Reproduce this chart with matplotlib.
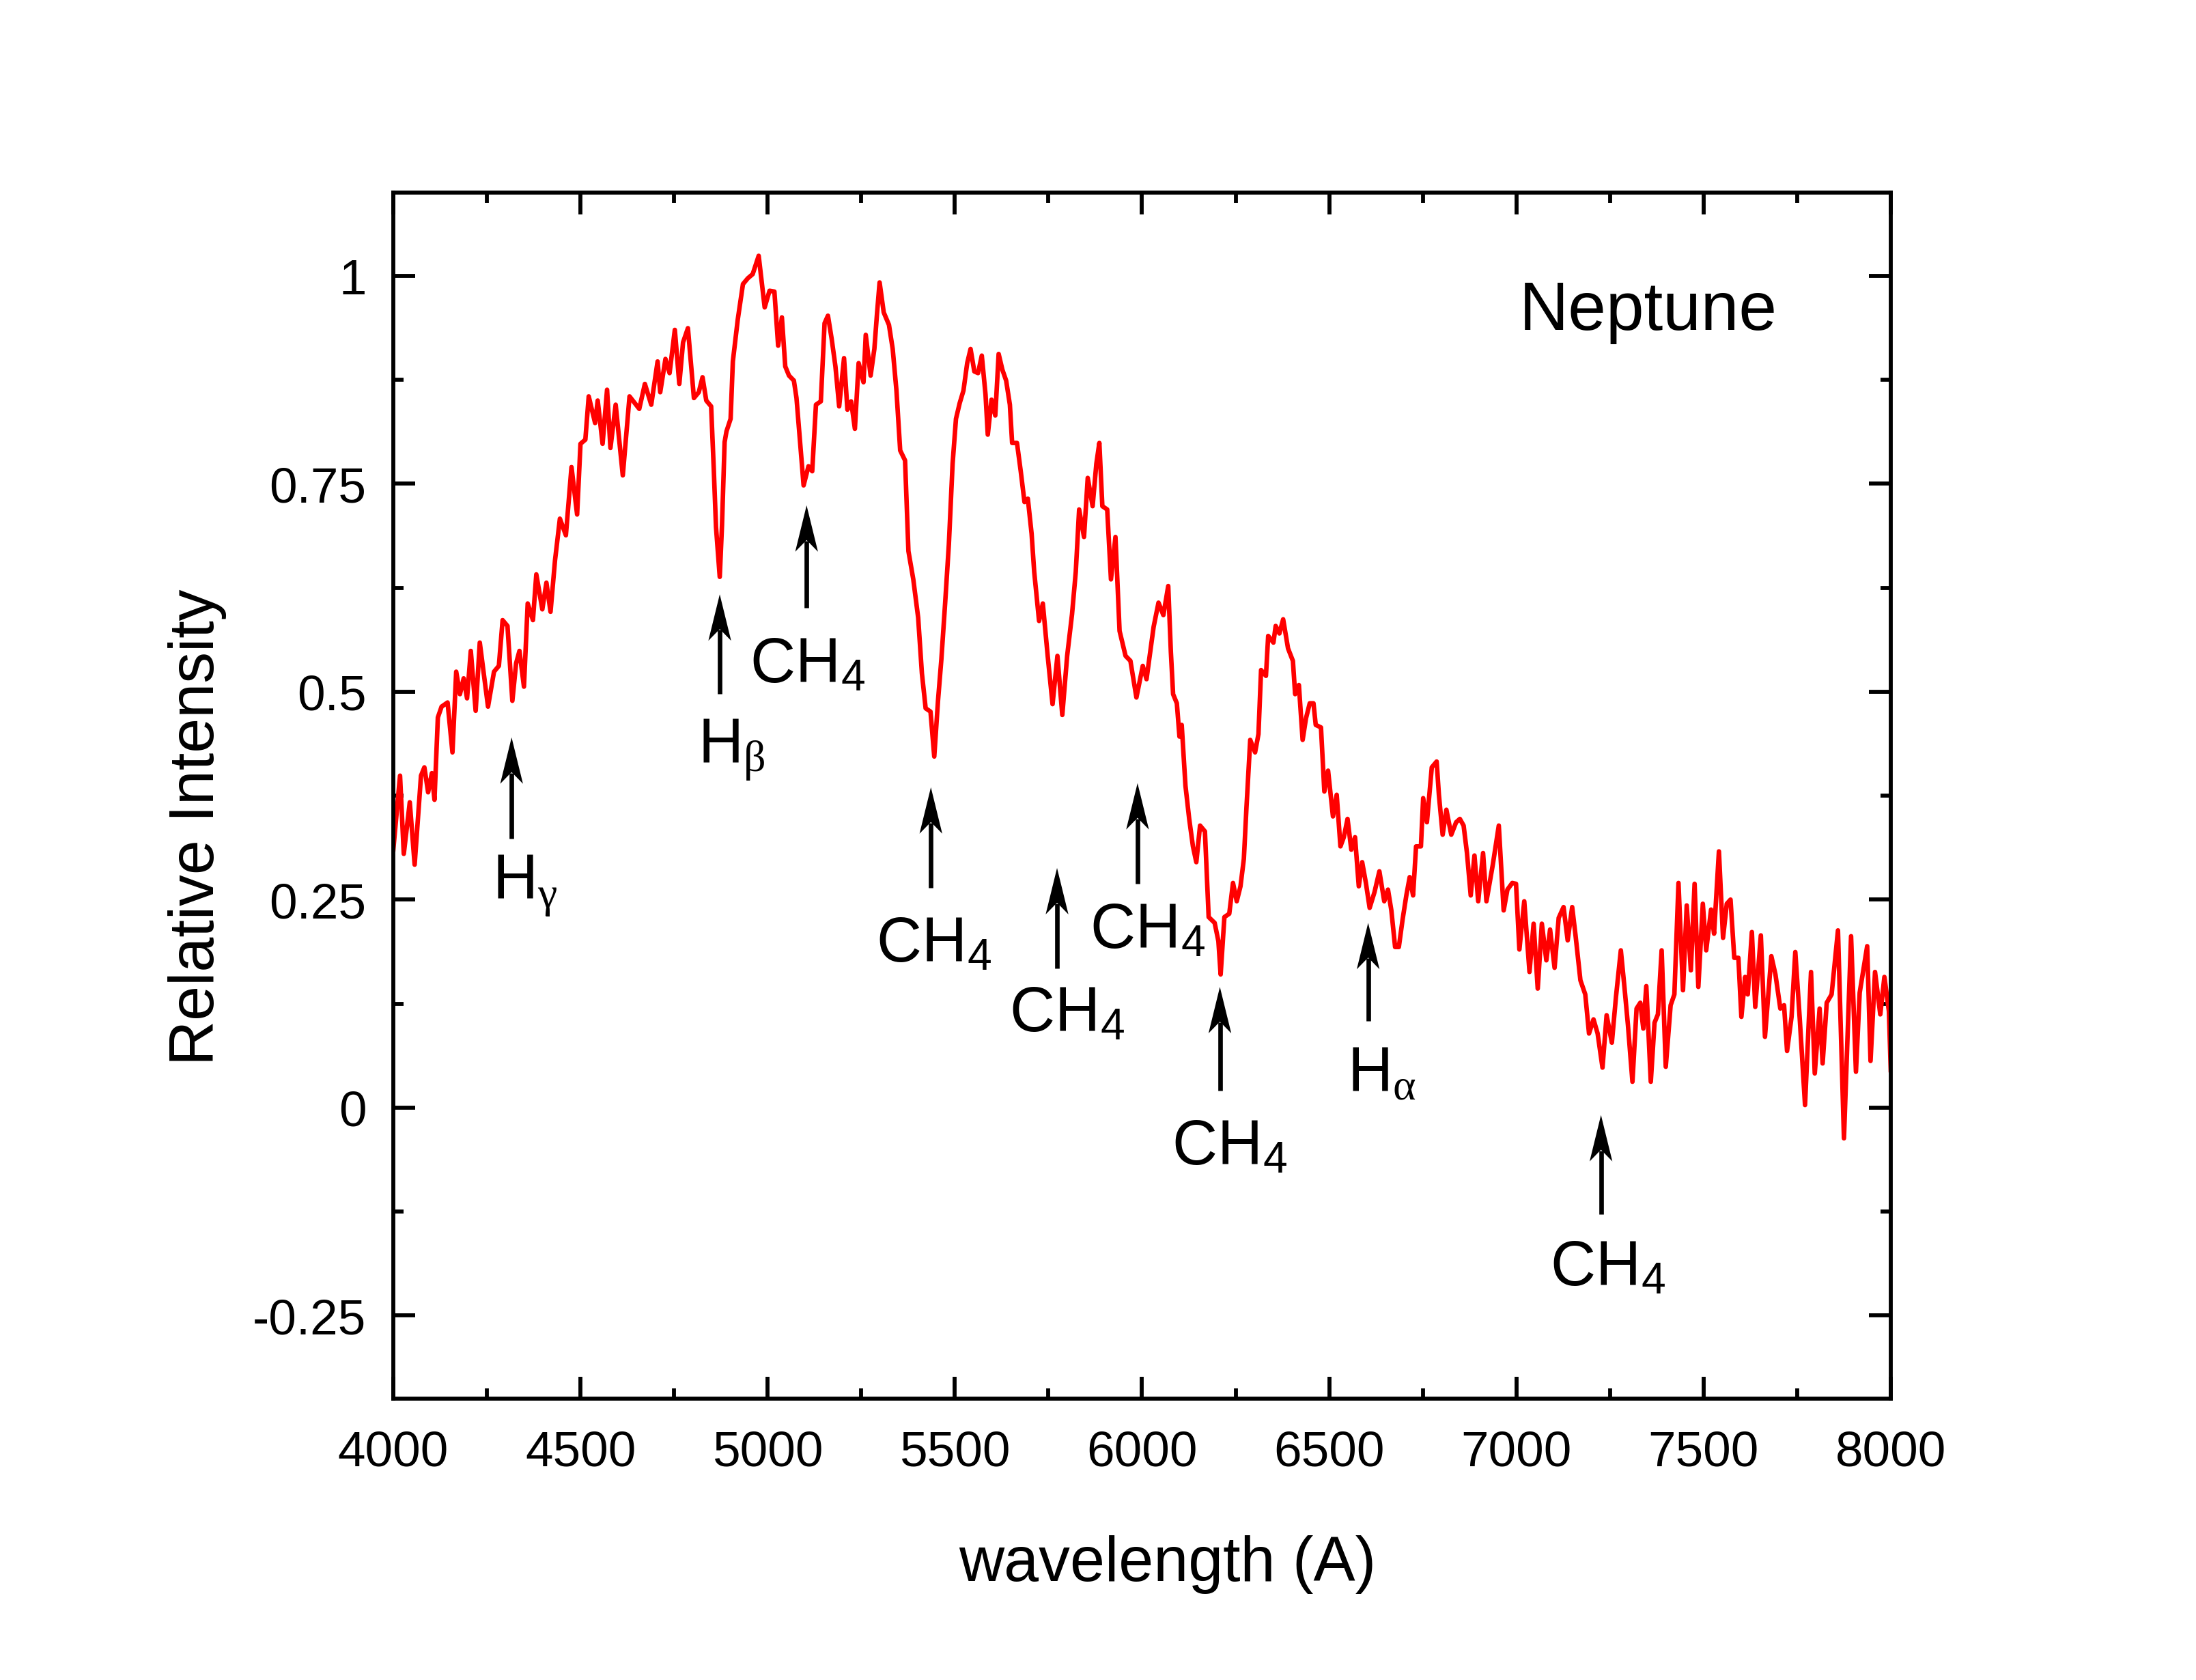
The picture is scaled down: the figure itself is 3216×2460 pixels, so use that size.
import numpy as np
import matplotlib
matplotlib.use('Agg')
import matplotlib.pyplot as plt
from matplotlib.ticker import MultipleLocator, FuncFormatter
from matplotlib.patches import Polygon
from matplotlib.transforms import Affine2D, ScaledTranslation

plt.rcParams['font.family'] = ['Liberation Sans', 'DejaVu Sans']
plt.rcParams['mathtext.fontset'] = 'custom'
plt.rcParams['mathtext.rm'] = 'Liberation Sans'
plt.rcParams['mathtext.it'] = 'Liberation Serif'
plt.rcParams['axes.unicode_minus'] = False

# spectrum in four pieces (wavelength in A, relative intensity)
wl_a = [4000, 4018, 4028, 4044, 4057, 4074, 4083, 4093, 4103, 4110, 4119, 4129, 4145, 4158,
        4168, 4178, 4188, 4197, 4207, 4220, 4231, 4253, 4269, 4282, 4292, 4305, 4318, 4328,
        4337, 4349, 4359, 4373, 4382, 4398, 4409, 4420, 4432, 4445, 4461, 4476, 4491, 4500,
        4513, 4522, 4539, 4546, 4559, 4571, 4580, 4594, 4613, 4631, 4657, 4672, 4689, 4706,
        4713, 4727, 4738, 4752, 4764, 4774, 4787, 4803, 4816, 4826, 4836, 4849, 4856, 4862,
        4872, 4878, 4885, 4890, 4901, 4907, 4920, 4934, 4947, 4960, 4976, 4992, 5005]
int_a = [0.310, 0.399, 0.305, 0.367, 0.292, 0.399, 0.409, 0.379, 0.402, 0.370, 0.469, 0.482,
         0.487, 0.427, 0.524, 0.497, 0.516, 0.492, 0.549, 0.477, 0.559, 0.482, 0.524, 0.531,
         0.586, 0.579, 0.489, 0.534, 0.549, 0.506, 0.606, 0.586, 0.641, 0.599, 0.631, 0.596,
         0.658, 0.708, 0.688, 0.770, 0.713, 0.798, 0.803, 0.855, 0.823, 0.850, 0.798, 0.863,
         0.793, 0.845, 0.760, 0.855, 0.840, 0.870, 0.845, 0.897, 0.860, 0.900, 0.883, 0.935,
         0.870, 0.920, 0.937, 0.853, 0.860, 0.878, 0.850, 0.843, 0.768, 0.698, 0.638, 0.700,
         0.800, 0.813, 0.828, 0.897, 0.947, 0.990, 0.997, 1.002, 1.024, 0.962, 0.982]

wl_b = [5018, 5028, 5038, 5047, 5057, 5070, 5077, 5086, 5096, 5109, 5119, 5129, 5142, 5152,
        5161, 5171, 5181, 5191, 5204, 5213, 5223, 5233, 5243, 5256, 5262, 5275, 5285, 5292,
        5299, 5310, 5324, 5334, 5344, 5354, 5367, 5376, 5389, 5402, 5412, 5422, 5435, 5445,
        5455, 5464, 5474, 5484, 5494, 5503, 5513, 5523, 5533, 5542, 5552, 5562, 5572, 5582,
        5588, 5598, 5608, 5617, 5627, 5637, 5647, 5653, 5666, 5676, 5686, 5695, 5705, 5712,
        5725, 5735, 5748, 5761, 5774, 5787, 5800, 5813, 5823, 5832, 5845, 5855, 5868, 5878,
        5886, 5894, 5907, 5917, 5929, 5940, 5956, 5969, 5985, 6002]
int_b = [0.981, 0.916, 0.950, 0.891, 0.880, 0.874, 0.853, 0.803, 0.748, 0.771, 0.765, 0.845,
         0.849, 0.943, 0.952, 0.924, 0.891, 0.843, 0.901, 0.839, 0.849, 0.816, 0.895, 0.872,
         0.929, 0.880, 0.912, 0.954, 0.992, 0.956, 0.941, 0.912, 0.862, 0.790, 0.778, 0.669,
         0.635, 0.589, 0.522, 0.480, 0.476, 0.422, 0.489, 0.539, 0.606, 0.677, 0.774, 0.828,
         0.847, 0.862, 0.895, 0.912, 0.885, 0.883, 0.904, 0.857, 0.809, 0.851, 0.832, 0.906,
         0.887, 0.874, 0.845, 0.799, 0.799, 0.765, 0.728, 0.732, 0.690, 0.644, 0.585, 0.606,
         0.543, 0.485, 0.543, 0.472, 0.543, 0.593, 0.644, 0.719, 0.686, 0.757, 0.723, 0.774,
         0.799, 0.723, 0.719, 0.635, 0.686, 0.573, 0.543, 0.537, 0.493, 0.531]

wl_c = [6012, 6022, 6031, 6044, 6057, 6070, 6077, 6083, 6093, 6100, 6106, 6116, 6126, 6136,
        6145, 6155, 6168, 6178, 6194, 6204, 6210, 6220, 6233, 6243, 6253, 6263, 6272, 6279,
        6289, 6302, 6311, 6318, 6331, 6337, 6351, 6357, 6367, 6377, 6390, 6403, 6409, 6419,
        6429, 6438, 6448, 6458, 6464, 6478, 6487, 6497, 6510, 6520, 6530, 6539, 6549, 6559,
        6569, 6579, 6588, 6598, 6608, 6621, 6634, 6647, 6657, 6666, 6676, 6686, 6696, 6706,
        6715, 6724, 6732, 6745, 6751, 6761, 6774, 6787, 6793, 6803, 6813, 6826, 6839, 6849,
        6859, 6868, 6878, 6888, 6898, 6911, 6920, 6937, 6953, 6966, 6976, 6989]
int_c = [0.515, 0.548, 0.578, 0.607, 0.592, 0.627, 0.548, 0.497, 0.486, 0.446, 0.460, 0.387,
         0.347, 0.314, 0.295, 0.339, 0.332, 0.229, 0.222, 0.200, 0.160, 0.229, 0.233, 0.270,
         0.248, 0.266, 0.299, 0.361, 0.442, 0.427, 0.449, 0.526, 0.519, 0.567, 0.559, 0.579,
         0.570, 0.587, 0.552, 0.537, 0.497, 0.508, 0.442, 0.468, 0.486, 0.486, 0.460, 0.457,
         0.380, 0.405, 0.350, 0.376, 0.314, 0.325, 0.347, 0.310, 0.325, 0.266, 0.295, 0.270,
         0.240, 0.259, 0.284, 0.248, 0.262, 0.237, 0.193, 0.193, 0.226, 0.255, 0.277, 0.255,
         0.314, 0.314, 0.372, 0.343, 0.409, 0.416, 0.376, 0.328, 0.358, 0.328, 0.343, 0.347,
         0.339, 0.306, 0.255, 0.303, 0.248, 0.306, 0.248, 0.292, 0.339, 0.237, 0.262, 0.270]

wl_d = [6999, 7008, 7021, 7035, 7046, 7057, 7068, 7080, 7090, 7102, 7113, 7126, 7137, 7149,
        7158, 7171, 7184, 7194, 7206, 7217, 7230, 7241, 7255, 7266, 7279, 7289, 7298, 7310,
        7321, 7331, 7339, 7347, 7359, 7369, 7378, 7388, 7399, 7412, 7422, 7433, 7445, 7455,
        7466, 7476, 7486, 7498, 7507, 7520, 7528, 7541, 7552, 7562, 7572, 7582, 7593, 7601,
        7611, 7618, 7629, 7638, 7653, 7664, 7681, 7692, 7705, 7715, 7723, 7735, 7745, 7757,
        7771, 7787, 7797, 7810, 7818, 7829, 7842, 7859, 7875, 7894, 7907, 7917, 7937, 7946,
        7958, 7972, 7983, 7995, 8000]
int_d = [0.269, 0.190, 0.248, 0.163, 0.221, 0.143, 0.221, 0.177, 0.214, 0.168, 0.228, 0.241,
         0.201, 0.241, 0.207, 0.153, 0.136, 0.089, 0.106, 0.089, 0.048, 0.111, 0.078, 0.133,
         0.189, 0.143, 0.099, 0.031, 0.119, 0.126, 0.095, 0.146, 0.031, 0.102, 0.112, 0.189,
         0.049, 0.123, 0.136, 0.270, 0.141, 0.243, 0.165, 0.269, 0.145, 0.245, 0.189, 0.238,
         0.209, 0.308, 0.204, 0.245, 0.250, 0.180, 0.180, 0.109, 0.157, 0.136, 0.211, 0.121,
         0.207, 0.085, 0.182, 0.160, 0.119, 0.123, 0.068, 0.109, 0.187, 0.106, 0.003, 0.163,
         0.041, 0.119, 0.053, 0.126, 0.136, 0.213, -0.037, 0.206, 0.043, 0.138, 0.194, 0.056,
         0.163, 0.112, 0.157, 0.116, 0.045]

# line markers: arrow position, arrow tail / tip, label text and label anchor (baseline)
arrow_x = [4316, 4872, 5104, 5436, 5773, 5988, 6208, 6604, 7226]
arrow_tail = [0.323, 0.497, 0.601, 0.264, 0.167, 0.269, 0.020, 0.104, -0.128]
arrow_tip = [0.445, 0.617, 0.724, 0.385, 0.288, 0.390, 0.145, 0.222, -0.009]
labels = [r'H$_\gamma$', r'H$_\beta$', r'CH$_4$', r'CH$_4$', r'CH$_4$', r'CH$_4$',
          r'CH$_4$', r'H$_\alpha$', r'CH$_4$']
label_x = [4352, 4903, 5106, 5443, 5800, 6014, 6234, 6641, 7244]
label_y = [0.251, 0.414, 0.513, 0.1765, 0.093, 0.193, -0.067, 0.020, -0.212]

yticks = [-0.25, 0, 0.25, 0.5, 0.75, 1]

wl = np.concatenate([wl_a, wl_b, wl_c, wl_d])
inten = np.concatenate([int_a, int_b, int_c, int_d])

DPI = 300
fig = plt.figure(figsize=(10.72, 8.2033), dpi=DPI)
ax = fig.add_axes([0.1791, 0.1674, 0.6819, 0.7176])

ax.plot(wl, inten, color='#ff0000', lw=1.6)

ax.set_xlim(4000, 8000)
ax.set_ylim(-0.35, 1.1)

# notched arrow head, drawn in points around the tip
head = [(0, 0), (4.0, -16.3), (0, -12.2), (-4.0, -16.3)]
to_pts = Affine2D().scale(DPI / 72.0)
for x, t0, t1 in zip(arrow_x, arrow_tail, arrow_tip):
    tr = to_pts + ScaledTranslation(x, t1, ax.transData)
    p0 = ax.transData.transform((x, t0))
    p1 = ax.transData.transform((x, t1))
    length = (p1[1] - p0[1]) * 72.0 / DPI
    ax.plot([0, 0], [-length, -12.5], color='k', lw=1.6, solid_capstyle='butt',
            transform=tr)
    ax.add_patch(Polygon(head, closed=True, facecolor='k', edgecolor='none', transform=tr))

for s, x, y in zip(labels, label_x, label_y):
    ax.text(x, y, s, fontsize=22, ha='center', va='baseline')

ax.text(7352, 0.936, 'Neptune', fontsize=24, ha='center', va='baseline')

ax.xaxis.set_major_locator(MultipleLocator(500))
ax.xaxis.set_minor_locator(MultipleLocator(250))
ax.set_yticks(yticks)
ax.yaxis.set_minor_locator(MultipleLocator(0.125))
ax.yaxis.set_major_formatter(FuncFormatter(lambda v, p: '%g' % v))

ax.tick_params(which='both', direction='in', top=True, right=True, width=1.4,
               labelsize=17.5)
ax.tick_params(which='major', length=7.7)
ax.tick_params(which='minor', length=3.5)
ax.tick_params(axis='x', pad=11)
ax.tick_params(axis='y', pad=9.5)
for sp in ax.spines.values():
    sp.set_linewidth(1.4)

ax.set_xlabel('wavelength (A)', fontsize=22, va='baseline')
ax.xaxis.set_label_coords(0.517, -0.1506)
ax.set_ylabel('Relative Intensity', fontsize=22, va='center')
ax.yaxis.set_label_coords(-0.131, 0.4745)

fig.savefig('out.png', dpi=DPI)
